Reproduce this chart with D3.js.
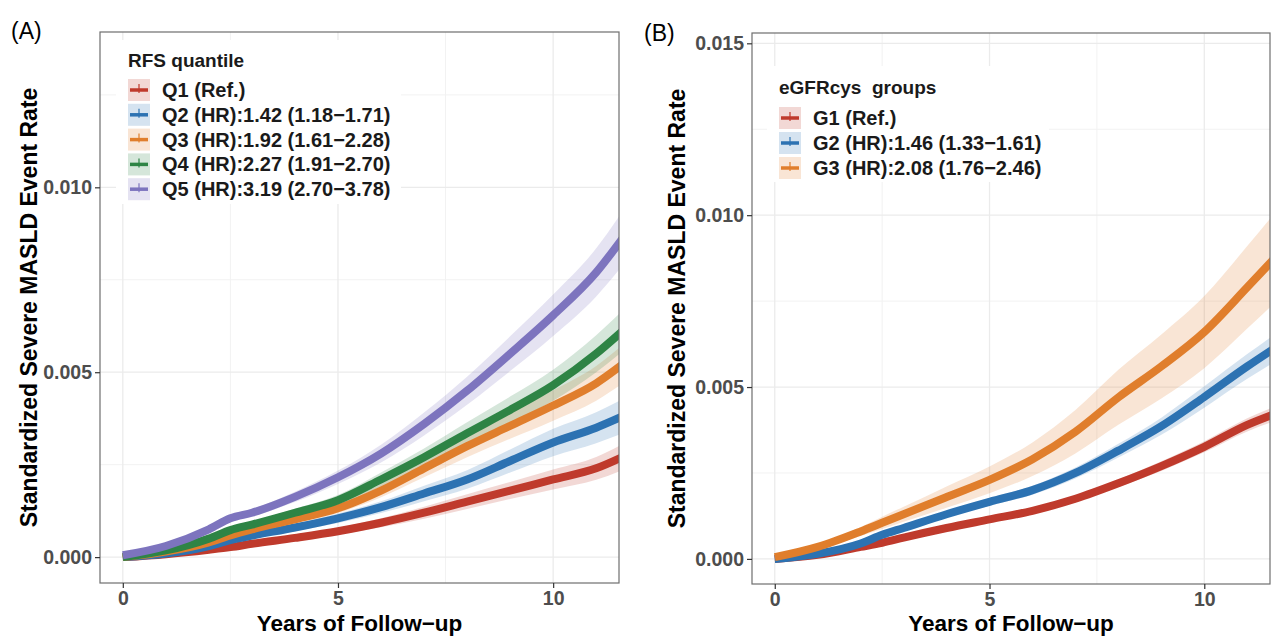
<!DOCTYPE html>
<html>
<head>
<meta charset="utf-8">
<script src="https://cdn.jsdelivr.net/npm/d3@7"></script>
<style>
  body { margin: 0; background: #fff; }
  text { font-family: "Liberation Sans", Arial, sans-serif; }
</style>
</head>
<body>
<div id="main"></div>
<script>
// ---- data ----
var years = [0, 1, 2, 2.5, 3, 4, 5, 6, 7, 8, 9, 10, 11, 11.6];
var xTicks = [0, 5, 10];

// panel A: RFS quantile
var groupsA = ["Q1 (Ref.)", "Q2 (HR):1.42 (1.18\u22121.71)", "Q3 (HR):1.92 (1.61\u22122.28)",
               "Q4 (HR):2.27 (1.91\u22122.70)", "Q5 (HR):3.19 (2.70\u22123.78)"];
var q1Est = [0, 0.00008, 0.0002, 0.00027, 0.00036, 0.00052, 0.0007, 0.00093, 0.0012, 0.0015, 0.0018, 0.0021, 0.0024, 0.0027];
var q1Lo  = [0, 0.00007, 0.00017, 0.00023, 0.00031, 0.00045, 0.00061, 0.00081, 0.00104, 0.0013, 0.00157, 0.00183, 0.00209, 0.00235];
var q1Hi  = [0, 0.00009, 0.00023, 0.00031, 0.00041, 0.00059, 0.00079, 0.00105, 0.00136, 0.0017, 0.00203, 0.00237, 0.00271, 0.00305];
var q2Est = [0, 0.0001, 0.0003, 0.00046, 0.00058, 0.0008, 0.00105, 0.00135, 0.00172, 0.0021, 0.0026, 0.0031, 0.0035, 0.0038];
var q2Lo  = [0, 0.00009, 0.00026, 0.0004, 0.00051, 0.0007, 0.00092, 0.00119, 0.00151, 0.00185, 0.00229, 0.00273, 0.00308, 0.00334];
var q2Hi  = [0, 0.00011, 0.00034, 0.00052, 0.00065, 0.0009, 0.00118, 0.00151, 0.00193, 0.00235, 0.00291, 0.00347, 0.00392, 0.00426];
var q3Est = [0, 0.00015, 0.0004, 0.00059, 0.00075, 0.00102, 0.00132, 0.0018, 0.0024, 0.003, 0.00355, 0.0041, 0.0047, 0.0052];
var q3Lo  = [0, 0.00013, 0.00036, 0.00053, 0.00067, 0.00092, 0.00119, 0.00162, 0.00216, 0.0027, 0.0032, 0.00369, 0.00423, 0.00468];
var q3Hi  = [0, 0.00017, 0.00044, 0.00065, 0.00083, 0.00112, 0.00145, 0.00198, 0.00264, 0.0033, 0.0039, 0.00451, 0.00517, 0.00572];
var q4Est = [0, 0.00018, 0.0005, 0.00073, 0.00088, 0.0012, 0.00154, 0.0021, 0.0027, 0.00335, 0.00398, 0.00465, 0.0055, 0.0061];
var q4Lo  = [0, 0.00016, 0.00045, 0.00066, 0.0008, 0.00109, 0.0014, 0.00191, 0.00246, 0.00305, 0.00362, 0.00423, 0.005, 0.00555];
var q4Hi  = [0, 0.0002, 0.00055, 0.0008, 0.00096, 0.00131, 0.00168, 0.00229, 0.00294, 0.00365, 0.00434, 0.00507, 0.006, 0.00665];
var q5Est = [0.00005, 0.0003, 0.00075, 0.00105, 0.0012, 0.00163, 0.00216, 0.0028, 0.0036, 0.0045, 0.0055, 0.00654, 0.0077, 0.0086];
var q5Lo  = [0.00005, 0.00027, 0.00069, 0.00096, 0.0011, 0.00149, 0.00198, 0.00256, 0.00329, 0.00412, 0.00503, 0.00598, 0.00705, 0.00787];
var q5Hi  = [0.00005, 0.00033, 0.00081, 0.00114, 0.0013, 0.00177, 0.00234, 0.00304, 0.00391, 0.00488, 0.00597, 0.0071, 0.00835, 0.00933];
var yTicksA = [0, 0.005, 0.01];

// panel B: eGFRcys groups
var groupsB = ["G1 (Ref.)", "G2 (HR):1.46 (1.33\u22121.61)", "G3 (HR):2.08 (1.76\u22122.46)"];
var g1Est = [0, 0.00012, 0.00035, 0.00047, 0.00062, 0.0009, 0.00115, 0.0014, 0.00175, 0.0022, 0.0027, 0.00326, 0.0039, 0.0042];
var g1Lo  = [0, 0.00011, 0.00033, 0.00045, 0.00059, 0.00085, 0.00109, 0.00133, 0.00166, 0.00209, 0.00256, 0.0031, 0.00371, 0.00399];
var g1Hi  = [0, 0.00013, 0.00037, 0.00049, 0.00065, 0.00095, 0.00121, 0.00147, 0.00184, 0.00231, 0.00284, 0.00342, 0.00409, 0.00441];
var g2Est = [0, 0.00015, 0.00045, 0.0007, 0.0009, 0.0013, 0.00166, 0.002, 0.0025, 0.00315, 0.00386, 0.00471, 0.0056, 0.0061];
var g2Lo  = [0, 0.00014, 0.00042, 0.00065, 0.00084, 0.00122, 0.00155, 0.00187, 0.00234, 0.00295, 0.00361, 0.0044, 0.00524, 0.0057];
var g2Hi  = [0, 0.00016, 0.00048, 0.00075, 0.00096, 0.00138, 0.00177, 0.00213, 0.00266, 0.00335, 0.00411, 0.00502, 0.00596, 0.0065];
var g3Est = [0.00005, 0.00035, 0.0008, 0.00105, 0.0013, 0.0018, 0.0023, 0.0029, 0.0037, 0.0047, 0.0056, 0.0066, 0.0079, 0.0087];
var g3Lo  = [0.00005, 0.00029, 0.00067, 0.00087, 0.00108, 0.00149, 0.00191, 0.00241, 0.00307, 0.0039, 0.00467, 0.00555, 0.0067, 0.0074];
var g3Hi  = [0.00005, 0.00041, 0.00093, 0.00123, 0.00152, 0.00211, 0.00269, 0.00339, 0.00433, 0.0055, 0.00653, 0.00765, 0.0091, 0.01];
var yTicksB = [0, 0.005, 0.01, 0.015];

var colorsA = ["#BF3A2C", "#2C72B2", "#E07E2C", "#2E8445", "#7D74BE"];
var colorsB = ["#BF3A2C", "#2C72B2", "#E07E2C"];

var width = 1280, height = 644;
var svg = d3.select("#main").append("svg")
  .attr("width", width)
  .attr("height", height);

function series(est, lo, hi) {
  return years.map(function (y, i) { return { x: y, y: est[i], lo: lo[i], hi: hi[i] }; });
}

function drawPanel(p) {
  var x = d3.scaleLinear().domain([-0.53, 11.53]).range([p.left, p.right]);
  var y = d3.scaleLinear().domain(p.yDomain).range([p.bottom, p.top]);
  var g = svg.append("g");

  // grid
  var minorX = [2.5, 7.5];
  var minorY = p.yTicks.slice(0, -1).map(function (t, i) { return (t + p.yTicks[i + 1]) / 2; });
  if (p.extraMinorY) minorY = minorY.concat(p.extraMinorY);
  g.selectAll(".mx").data(minorX).enter().append("line")
    .attr("x1", x).attr("x2", x).attr("y1", p.top).attr("y2", p.bottom)
    .attr("stroke", "#f2f2f2").attr("stroke-width", 1);
  g.selectAll(".my").data(minorY).enter().append("line")
    .attr("y1", y).attr("y2", y).attr("x1", p.left).attr("x2", p.right)
    .attr("stroke", "#f2f2f2").attr("stroke-width", 1);
  g.selectAll(".gx").data(xTicks).enter().append("line")
    .attr("x1", x).attr("x2", x).attr("y1", p.top).attr("y2", p.bottom)
    .attr("stroke", "#ebebeb").attr("stroke-width", 1.3);
  g.selectAll(".gy").data(p.yTicks).enter().append("line")
    .attr("y1", y).attr("y2", y).attr("x1", p.left).attr("x2", p.right)
    .attr("stroke", "#ebebeb").attr("stroke-width", 1.3);

  // clip
  svg.append("clipPath").attr("id", p.id + "clip").append("rect")
    .attr("x", p.left).attr("y", p.top)
    .attr("width", p.right - p.left).attr("height", p.bottom - p.top);
  var plot = g.append("g").attr("clip-path", "url(#" + p.id + "clip)");

  var area = d3.area().x(function (d) { return x(d.x); })
    .y0(function (d) { return y(d.lo); }).y1(function (d) { return y(d.hi); })
    .curve(d3.curveMonotoneX);
  var line = d3.line().x(function (d) { return x(d.x); })
    .y(function (d) { return y(d.y); })
    .curve(d3.curveMonotoneX);

  plot.selectAll(".band").data(p.data).enter().append("path")
    .attr("d", area)
    .attr("fill", function (d, i) { return p.colors[i]; })
    .attr("fill-opacity", 0.2);
  plot.selectAll(".curve").data(p.data).enter().append("path")
    .attr("d", line)
    .attr("fill", "none")
    .attr("stroke", function (d, i) { return p.colors[i]; })
    .attr("stroke-width", 8);

  // legend
  var lg = g.append("g");
  lg.append("rect").attr("x", p.legend.x - 12).attr("y", p.legend.boxTop)
    .attr("width", p.legend.boxW).attr("height", p.legend.boxH).attr("fill", "#fff");
  lg.append("text").attr("x", p.legend.x).attr("y", p.legend.titleY)
    .attr("font-size", 19).attr("font-weight", "bold").attr("fill", "#1a1a1a")
    .attr("xml:space", "preserve")
    .text(p.legend.title);
  p.labels.forEach(function (lab, i) {
    var cy = p.legend.firstY + i * p.legend.step;
    var kx = p.legend.x;
    lg.append("rect").attr("x", kx).attr("y", cy - 11).attr("width", 22).attr("height", 22)
      .attr("fill", p.colors[i]).attr("fill-opacity", 0.2);
    lg.append("line").attr("x1", kx + 2).attr("x2", kx + 20).attr("y1", cy).attr("y2", cy)
      .attr("stroke", p.colors[i]).attr("stroke-width", 3.5);
    lg.append("line").attr("x1", kx + 11).attr("x2", kx + 11).attr("y1", cy - 6).attr("y2", cy + 3)
      .attr("stroke", p.colors[i]).attr("stroke-width", 1.2);
    lg.append("text").attr("x", kx + 34).attr("y", cy + 7)
      .attr("font-size", 20).attr("font-weight", "bold").attr("fill", "#1a1a1a")
      .text(lab);
  });

  // border
  g.append("rect").attr("x", p.left).attr("y", p.top)
    .attr("width", p.right - p.left).attr("height", p.bottom - p.top)
    .attr("fill", "none").attr("stroke", "#6e6e6e").attr("stroke-width", 1.2);

  // axes
  var xAxis = d3.axisBottom(x).tickValues(xTicks).tickSize(5).tickPadding(3).tickFormat(d3.format("d"));
  var ax = g.append("g").attr("transform", "translate(0," + p.bottom + ")").call(xAxis);
  var yAxis = d3.axisLeft(y).tickValues(p.yTicks).tickSize(5).tickPadding(3).tickFormat(d3.format(".3f"));
  var ay = g.append("g").attr("transform", "translate(" + p.left + ",0)").call(yAxis);
  [ax, ay].forEach(function (a) {
    a.select(".domain").remove();
    a.selectAll(".tick line").attr("stroke", "#333").attr("stroke-width", 1.2);
    a.selectAll(".tick text").attr("font-size", 19.5).attr("font-weight", "bold")
      .attr("fill", "#4d4d4d").attr("font-family", "'Liberation Sans', Arial, sans-serif");
  });

  g.append("text")
    .attr("x", (p.left + p.right) / 2).attr("y", 631)
    .attr("text-anchor", "middle").attr("font-size", 22.5).attr("font-weight", "bold")
    .attr("fill", "#000").text("Years of Follow\u2212up");
  g.append("text")
    .attr("transform", "translate(" + p.yTitleX + "," + ((p.top + p.bottom) / 2) + ") rotate(-90)")
    .attr("text-anchor", "middle").attr("font-size", 23).attr("font-weight", "bold")
    .attr("fill", "#000").text("Standardized Severe MASLD Event Rate");
  g.append("text").attr("x", p.tagX).attr("y", p.tagY)
    .attr("font-size", 23).attr("fill", "#000").text(p.tag);
}

drawPanel({
  id: "A", tag: "(A)", tagX: 11, tagY: 39,
  left: 100, right: 619, top: 32, bottom: 583,
  yDomain: [-0.0007, 0.0142], yTicks: yTicksA, extraMinorY: [0.0125],
  colors: colorsA, labels: groupsA,
  data: [series(q1Est, q1Lo, q1Hi), series(q2Est, q2Lo, q2Hi), series(q3Est, q3Lo, q3Hi),
         series(q4Est, q4Lo, q4Hi), series(q5Est, q5Lo, q5Hi)],
  yTitleX: 37,
  legend: { x: 128, title: "RFS quantile", titleY: 67, firstY: 90, step: 24.8,
            boxTop: 40, boxH: 164, boxW: 285 }
});

drawPanel({
  id: "B", tag: "(B)", tagX: 644, tagY: 41,
  left: 752, right: 1270, top: 33, bottom: 584,
  yDomain: [-0.00073, 0.0153], yTicks: yTicksB,
  colors: colorsB, labels: groupsB,
  data: [series(g1Est, g1Lo, g1Hi), series(g2Est, g2Lo, g2Hi), series(g3Est, g3Lo, g3Hi)],
  yTitleX: 685,
  legend: { x: 779, title: "eGFRcys  groups", titleY: 94, firstY: 118, step: 25,
            boxTop: 66, boxH: 116, boxW: 282 }
});
</script>
</body>
</html>
